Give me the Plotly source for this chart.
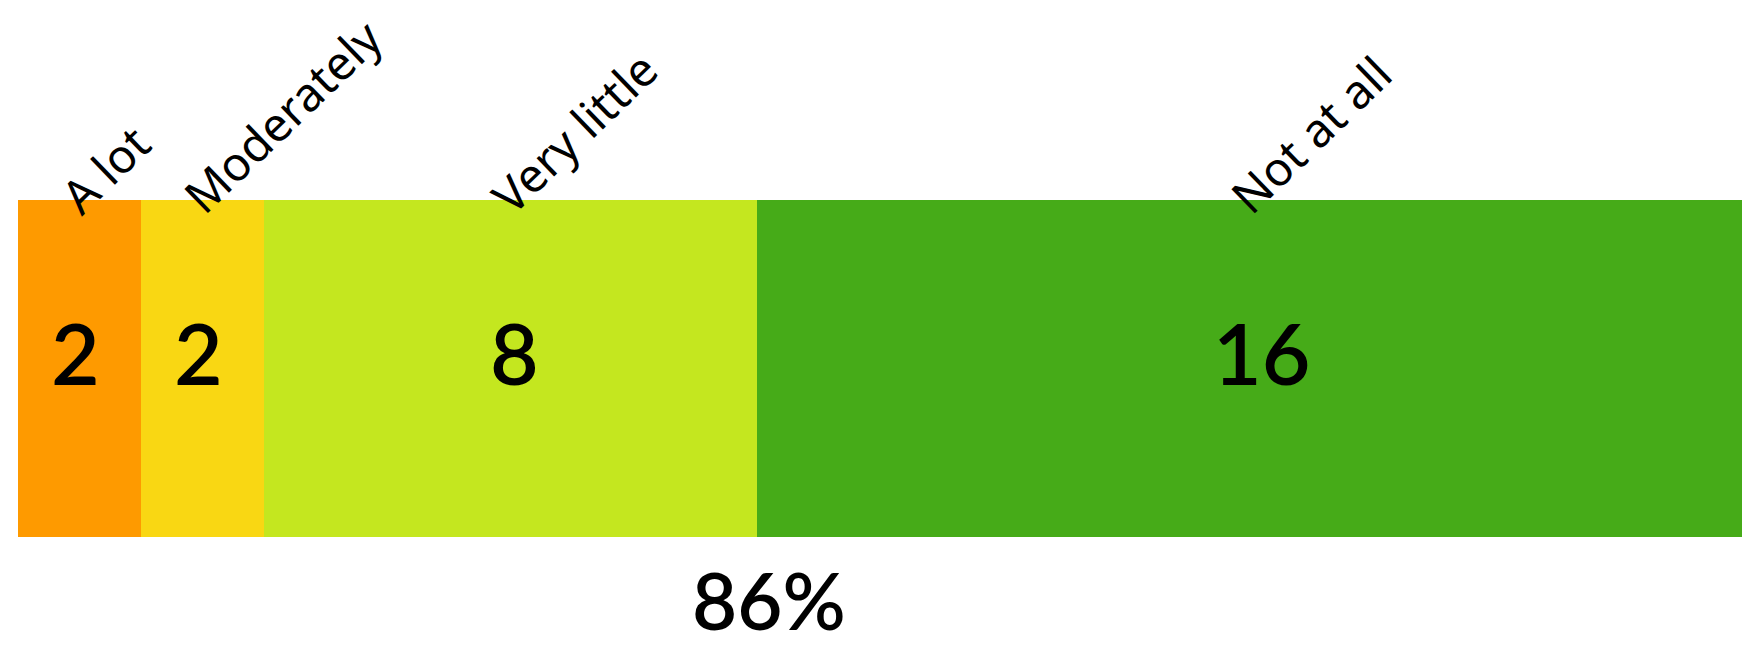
import plotly.graph_objects as go

categories = ["A lot", "Moderately", "Very little", "Not at all"]
counts = [2, 2, 8, 16]
colors = ["#FE9A00", "#F9D713", "#C4E71F", "#46AB18"]
summary_label = "86%"

fig = go.Figure()
for cat, val, col in zip(categories, counts, colors):
    fig.add_trace(go.Bar(
        y=[0], x=[val], name=cat, orientation="h",
        marker=dict(color=col, line=dict(width=0)),
        width=1, hoverinfo="skip",
    ))

total = sum(counts)
cum = 0
for cat, val in zip(categories, counts):
    center = cum + val / 2
    fig.add_annotation(
        x=center, y=1, xref="x", yref="paper", text=cat, showarrow=False,
        textangle=-44, xanchor="left", yanchor="bottom", xshift=-34, yshift=-28,
        borderpad=0,
        font=dict(family="Noto Sans, sans-serif", size=47, color="black"),
    )
    fig.add_annotation(
        x=center, y=0, xref="x", yref="y", text=str(val), showarrow=False,
        xanchor="center", yanchor="middle", yshift=16, xshift=12 if val > 8 else (4 if val > 4 else -4),
        font=dict(family="Lato, Noto Sans, sans-serif", size=84, color="black", weight=600),
    )
    cum += val

fig.add_annotation(
    x=counts[0] + counts[1] + counts[2], y=0, xref="x", yref="paper",
    text=summary_label, showarrow=False, xanchor="center", yanchor="middle",
    yshift=-63, xshift=12, borderpad=0,
    font=dict(family="Lato, Noto Sans, sans-serif", size=78, color="black", weight=600),
)

fig.update_layout(
    width=1742, height=650, barmode="stack", showlegend=False,
    margin=dict(l=18, r=0, t=200, b=113),
    plot_bgcolor="white", paper_bgcolor="white",
    xaxis=dict(range=[0, total], visible=False, fixedrange=True),
    yaxis=dict(range=[-0.5, 0.5], visible=False, fixedrange=True),
    bargap=0,
)

fig.write_html("out.html")
